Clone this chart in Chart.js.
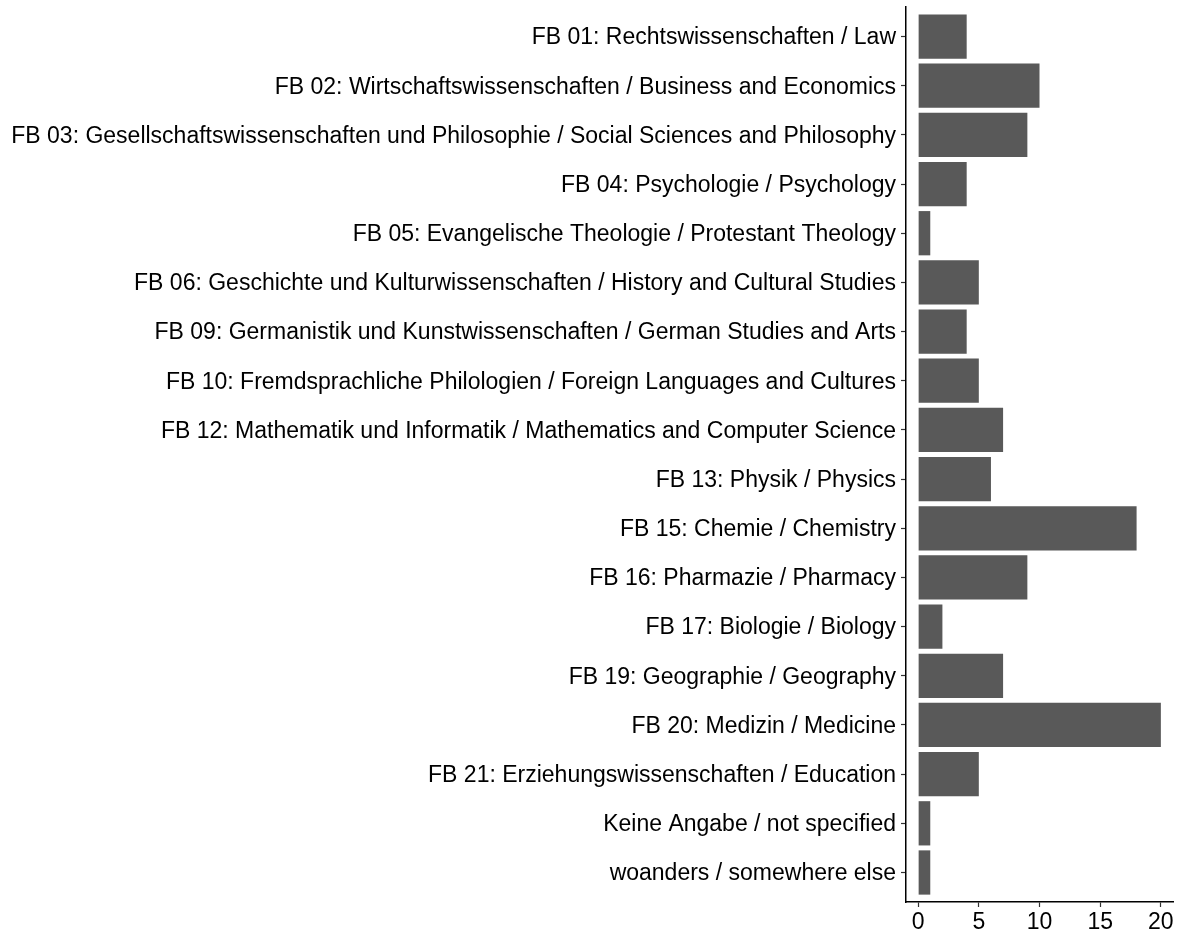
<!DOCTYPE html>
<html>
<head>
<meta charset="utf-8">
<script src="https://cdn.jsdelivr.net/npm/chart.js@4"></script>
<style>
  html, body { margin: 0; padding: 0; background: #fff; }
  #wrap { width: 1181px; height: 936px; }
</style>
</head>
<body>
<div id="wrap"><canvas id="chart" width="1181" height="936"></canvas></div>
<script>
// faculties, top to bottom
const categories = [
  'FB 01: Rechtswissenschaften / Law',
  'FB 02: Wirtschaftswissenschaften / Business and Economics',
  'FB 03: Gesellschaftswissenschaften und Philosophie / Social Sciences and Philosophy',
  'FB 04: Psychologie / Psychology',
  'FB 05: Evangelische Theologie / Protestant Theology',
  'FB 06: Geschichte und Kulturwissenschaften / History and Cultural Studies',
  'FB 09: Germanistik und Kunstwissenschaften / German Studies and Arts',
  'FB 10: Fremdsprachliche Philologien / Foreign Languages and Cultures',
  'FB 12: Mathematik und Informatik / Mathematics and Computer Science',
  'FB 13: Physik / Physics',
  'FB 15: Chemie / Chemistry',
  'FB 16: Pharmazie / Pharmacy',
  'FB 17: Biologie / Biology',
  'FB 19: Geographie / Geography',
  'FB 20: Medizin / Medicine',
  'FB 21: Erziehungswissenschaften / Education',
  'Keine Angabe / not specified',
  'woanders / somewhere else'
];
const counts = [4, 10, 9, 4, 1, 5, 4, 5, 7, 6, 18, 9, 2, 7, 20, 5, 1, 1];
const xTicks = [0, 5, 10, 15, 20];

const FONT = { family: "'Liberation Sans', Arial, sans-serif", size: 23 };

// ggplot pads a discrete axis by 0.6 of a band, Chart.js offset gives 0.5
const discreteExpand = {
  id: 'discreteExpand',
  afterLayout(chart) {
    const y = chart.scales.y;
    y._startValue -= 0.1;
    y._valueRange += 0.2;
  }
};

new Chart(document.getElementById('chart'), {
  type: 'bar',
  data: {
    labels: categories,
    datasets: [{
      data: counts,
      backgroundColor: '#595959',
      borderWidth: 0,
      barPercentage: 0.9,
      categoryPercentage: 1
    }]
  },
  options: {
    indexAxis: 'y',
    responsive: false,
    animation: false,
    layout: { padding: { top: 7, right: 8, left: 0, bottom: 0 } },
    plugins: { legend: { display: false }, tooltip: { enabled: false } },
    scales: {
      x: {
        type: 'linear',
        min: -1,
        max: 21,
        afterBuildTicks: (scale) => { scale.ticks = xTicks.map(v => ({ value: v })); },
        afterFit: (scale) => { scale.height = 34; },
        border: { display: true, color: '#000', width: 1.5 },
        grid: { display: true, drawOnChartArea: false, drawTicks: true, tickLength: 5, tickColor: '#333', tickWidth: 1.2 },
        ticks: { color: '#000', font: FONT, padding: 2, maxRotation: 0 }
      },
      y: {
        type: 'category',
        offset: true,
        afterFit: (scale) => {
          scale.width = 906;
          scale.paddingTop = 0;
          scale.paddingBottom = 0;
        },
        border: { display: true, color: '#000', width: 1.5 },
        grid: { display: true, drawOnChartArea: false, drawTicks: true, tickLength: 5, tickColor: '#333', tickWidth: 1.2, offset: false },
        ticks: { color: '#000', font: FONT, padding: 5, labelOffset: 1.5, autoSkip: false, crossAlign: 'near' }
      }
    }
  },
  plugins: [discreteExpand]
});
</script>
</body>
</html>
